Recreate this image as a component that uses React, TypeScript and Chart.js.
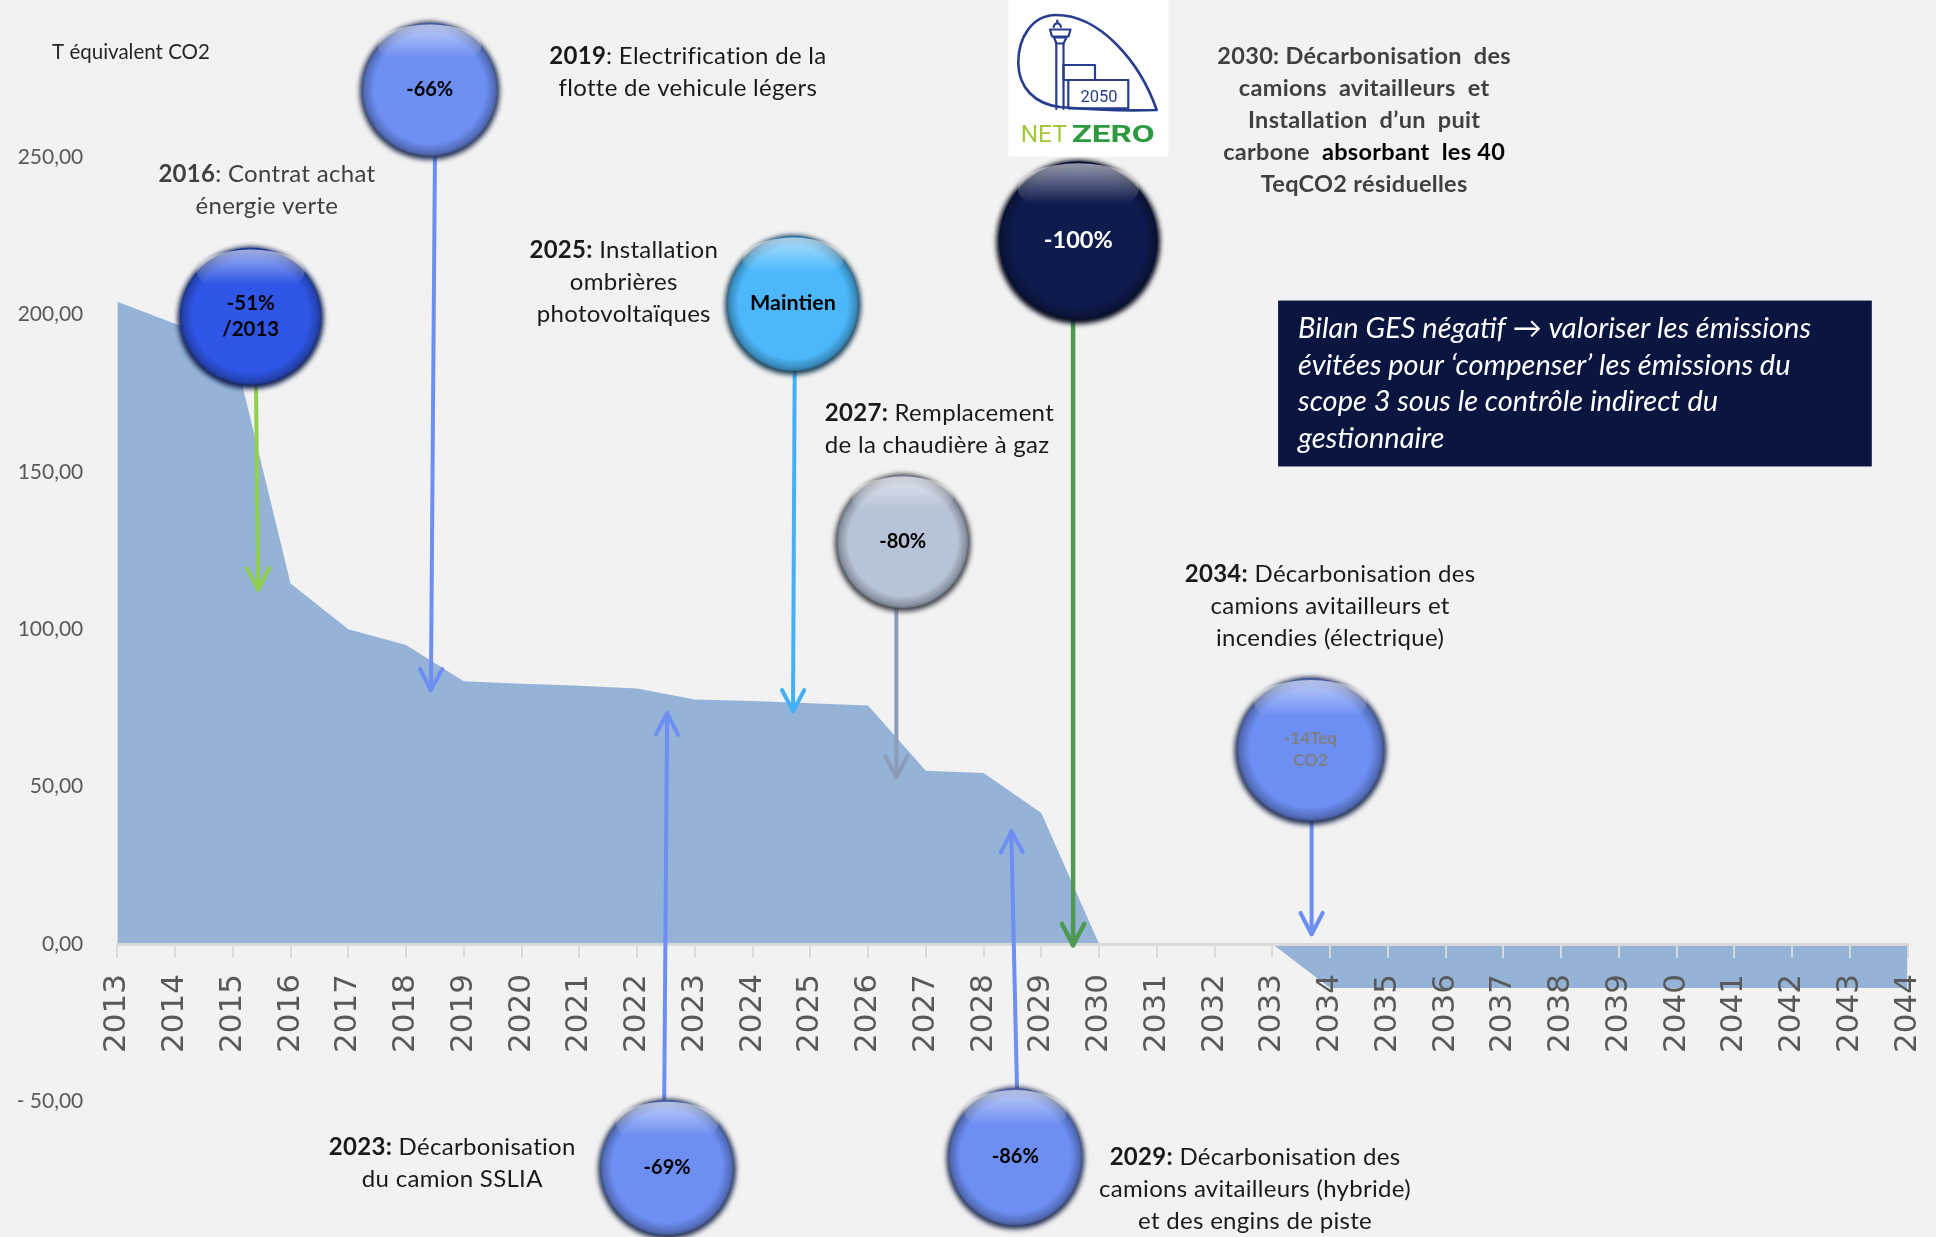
import React, { useEffect, useRef } from 'react';
import { Chart, registerables } from 'chart.js';

Chart.register(...registerables);

// ---------- DATA ----------
const years = [
  '2013', '2014', '2015', '2016', '2017', '2018', '2019', '2020', '2021', '2022', '2023',
  '2024', '2025', '2026', '2027', '2028', '2029', '2030', '2031', '2032', '2033', '2034',
  '2035', '2036', '2037', '2038', '2039', '2040', '2041', '2042', '2043', '2044',
];
const emissions = [
  204, 197, 190, 114.5, 100, 95, 83.5, 82.7, 82, 81.2, 77.7,
  77.2, 76.5, 75.8, 55, 54.3, 41.6, 0, 0, 0, 0, -14,
  -14, -14, -14, -14, -14, -14, -14, -14, -14, -14,
];
const yMin = -50;
const yMax = 250;
const yStep = 50;
const yTitle = 'T équivalent CO2';

// milestone bubbles (anchor in data units: year, tCO2e)
const bubbleTexts = [['-51%', '/2013'], ['-66%'], ['Maintien'], ['-80%'], ['-100%'], ['-14Teq', 'CO2'], ['-69%'], ['-86%']];
const bubbleYears = [2015.31, 2018.41, 2024.70, 2026.60, 2029.64, 2033.66, 2022.52, 2028.55];
const bubbleValues = [199.4, 271.5, 203.5, 127.9, 223.5, 61.8, -71.0, -67.6];

// arrows (from -> to, data units)
const arrowFromYears = [2015.40, 2018.50, 2024.73, 2026.49, 2029.55, 2033.68, 2022.47, 2028.58];
const arrowFromValues = [180, 250, 185, 110, 200, 40, -50, -47];
const arrowToYears = [2015.44, 2018.43, 2024.70, 2026.49, 2029.55, 2033.68, 2022.52, 2028.48];
const arrowToValues = [112.6, 80.6, 73.9, 52.9, -0.4, 3.1, 73.3, 35.8];

// milestone notes
const noteLines = [
  ['**2016**: Contrat achat', 'énergie verte'],
  ['**2019**: Electrification de la', 'flotte de vehicule légers'],
  ['**2025:** Installation', 'ombrières', 'photovoltaïques'],
  ['**2027:** Remplacement', 'de la chaudière à gaz'],
  ['2030: Décarbonisation  des', 'camions  avitailleurs  et', 'Installation  d’un  puit', 'carbone  [[absorbant  les 40]]', 'TeqCO2 résiduelles'],
  ['**2034:** Décarbonisation des', 'camions avitailleurs et', 'incendies (électrique)'],
  ['**2023:** Décarbonisation', 'du camion SSLIA'],
  ['**2029:** Décarbonisation des', 'camions avitailleurs (hybride)', 'et des engins de piste'],
];
const noteYears = [2015.59, 2022.88, 2021.77, 2025.25, 2034.59, 2034.0, 2018.80, 2032.70];
const noteValues = [244.5, 282.0, 220.3, 168.6, 282.0, 117.4, -64.6, -67.8];

const boxLines = [
  'Bilan GES négatif → valoriser les émissions',
  'évitées pour ‘compenser’ les émissions du',
  'scope 3 sous le contrôle indirect du',
  'gestionnaire',
];

// ---------- STYLES ----------
const BG = '#f2f2f2';
const AREA = '#95b3d7';
const bubbleColors = ['#2f56e6', '#6d8ef2', '#4cb8fb', '#b7c3d7', '#0e1b4d', '#6d8ef2', '#6d8ef2', '#6d8ef2'];
const bubbleTextColors = ['#000', '#000', '#000', '#000', '#fff', '#7f7f7f', '#000', '#000'];
const bubbleRx = [73, 70, 68, 68, 82, 76, 69, 69];
const bubbleRy = [71, 69, 70, 69, 82, 74, 70, 71];
const bubbleFont = [20.5, 20, 21.5, 20, 23.5, 17, 20, 20];
const arrowColors = ['#92d050', '#6d8ef2', '#45b0f8', '#8c9cb6', '#4f9a52', '#6d8ef2', '#6d8ef2', '#6d8ef2'];
const noteAlign = ['center', 'center', 'center', 'left', 'center', 'center', 'center', 'center'];
const noteColor = ['#404040', '#1a1a1a', '#1a1a1a', '#1a1a1a', '#404040', '#1a1a1a', '#1a1a1a', '#1a1a1a'];
const noteBold = [false, false, false, false, true, false, false, false];
const noteSize = [24, 24, 24, 24, 23.5, 24, 24, 24];
const FONT = 'Lato, "Open Sans", sans-serif';

function shade(hex: string, f: number) {
  const n = parseInt(hex.slice(1), 16);
  let r = (n >> 16) & 255, g = (n >> 8) & 255, b = n & 255;
  const t = f < 0 ? 0 : 255;
  const p = Math.abs(f);
  r = Math.round((t - r) * p + r);
  g = Math.round((t - g) * p + g);
  b = Math.round((t - b) * p + b);
  return `rgb(${r},${g},${b})`;
}

function drawBubble(ctx: CanvasRenderingContext2D, cx: number, cy: number, rx: number, ry: number, color: string) {
  ctx.save();
  ctx.filter = 'blur(2.5px)';
  ctx.beginPath();
  ctx.ellipse(cx, cy + 1.5, rx, ry, 0, 0, Math.PI * 2);
  ctx.fillStyle = shade(color, -0.65);
  ctx.fill();
  ctx.filter = 'none';
  ctx.translate(cx, cy);
  ctx.scale(rx, ry);
  const g = ctx.createRadialGradient(0, -0.05, 0, 0, 0, 1);
  g.addColorStop(0, color);
  g.addColorStop(0.8, color);
  g.addColorStop(0.93, shade(color, -0.25));
  g.addColorStop(1, shade(color, -0.55));
  ctx.beginPath();
  ctx.arc(0, 0, 0.965, 0, Math.PI * 2);
  ctx.fillStyle = g;
  ctx.fill();
  const h = ctx.createLinearGradient(0, -0.93, 0, -0.45);
  h.addColorStop(0, 'rgba(255,255,255,0.55)');
  h.addColorStop(1, 'rgba(255,255,255,0)');
  ctx.beginPath();
  ctx.ellipse(0, -0.63, 0.74, 0.31, 0, 0, Math.PI * 2);
  ctx.fillStyle = h;
  ctx.fill();
  ctx.restore();
}

function drawArrow(ctx: CanvasRenderingContext2D, x1: number, y1: number, x2: number, y2: number, color: string, w: number) {
  ctx.save();
  ctx.strokeStyle = color;
  ctx.lineWidth = w;
  ctx.lineCap = 'round';
  ctx.lineJoin = 'round';
  ctx.beginPath();
  ctx.moveTo(x1, y1);
  ctx.lineTo(x2, y2);
  ctx.stroke();
  const a = Math.atan2(y2 - y1, x2 - x1);
  const L = 24, s = 0.48;
  ctx.beginPath();
  ctx.moveTo(x2 - L * Math.cos(a - s), y2 - L * Math.sin(a - s));
  ctx.lineTo(x2, y2);
  ctx.lineTo(x2 - L * Math.cos(a + s), y2 - L * Math.sin(a + s));
  ctx.stroke();
  ctx.restore();
}

type Seg = { t: string; b: boolean; c: string };
function parseSegs(line: string, baseBold: boolean, baseColor: string): Seg[] {
  const segs: Seg[] = [];
  const re = /(\*\*[^*]+\*\*|\[\[[^\]]+\]\])/g;
  let last = 0;
  let m: RegExpExecArray | null;
  while ((m = re.exec(line))) {
    if (m.index > last) segs.push({ t: line.slice(last, m.index), b: baseBold, c: baseColor });
    const tok = m[0];
    if (tok.startsWith('**')) segs.push({ t: tok.slice(2, -2), b: true, c: baseColor });
    else segs.push({ t: tok.slice(2, -2), b: true, c: '#000' });
    last = m.index + tok.length;
  }
  if (last < line.length) segs.push({ t: line.slice(last), b: baseBold, c: baseColor });
  return segs;
}

function drawRich(ctx: CanvasRenderingContext2D, line: string, x: number, y: number, align: string, size: number, bold: boolean, color: string) {
  const segs = parseSegs(line, bold, color);
  (ctx as any).letterSpacing = '0.3px';
  let total = 0;
  const widths = segs.map((s) => {
    ctx.font = `${s.b ? '700 ' : ''}${size}px ${FONT}`;
    const w = ctx.measureText(s.t).width;
    total += w;
    return w;
  });
  let cx = align === 'center' ? x - total / 2 : x;
  ctx.textAlign = 'left';
  ctx.textBaseline = 'middle';
  segs.forEach((s, i) => {
    ctx.font = `${s.b ? '700 ' : ''}${size}px ${FONT}`;
    ctx.fillStyle = s.c;
    ctx.fillText(s.t, cx, y);
    cx += widths[i];
  });
  (ctx as any).letterSpacing = '0px';
}

function fillFit(ctx: CanvasRenderingContext2D, text: string, x: number, y: number, w: number) {
  const m = ctx.measureText(text).width;
  ctx.save();
  ctx.translate(x, y);
  ctx.scale(w / m, 1);
  ctx.fillText(text, 0, 0);
  ctx.restore();
}

function drawLogo(ctx: CanvasRenderingContext2D, ox: number, oy: number) {
  ctx.save();
  ctx.translate(ox, oy);
  ctx.fillStyle = '#ffffff';
  ctx.fillRect(8.3, 0, 160, 156.7);
  const navy = '#273d8e';
  ctx.strokeStyle = navy;
  ctx.lineWidth = 2.6;
  ctx.lineJoin = 'round';
  ctx.lineCap = 'round';
  ctx.beginPath();
  ctx.moveTo(156.7, 110);
  ctx.bezierCurveTo(140, 62, 100, 15, 56, 15);
  ctx.bezierCurveTo(32, 15, 18, 38, 18.3, 63);
  ctx.bezierCurveTo(18.6, 88, 35, 104, 60, 107);
  ctx.bezierCurveTo(95, 110, 130, 111, 156.7, 110);
  ctx.stroke();
  // tower
  ctx.lineWidth = 2.2;
  ctx.beginPath();
  ctx.moveTo(57.3, 20.5);
  ctx.lineTo(57.3, 23);
  ctx.stroke();
  ctx.beginPath();
  ctx.arc(57.3, 27, 3.6, Math.PI, 0);
  ctx.stroke();
  ctx.beginPath();
  ctx.moveTo(50, 29.5);
  ctx.lineTo(70.5, 29.5);
  ctx.lineTo(68.5, 36.5);
  ctx.lineTo(52, 36.5);
  ctx.closePath();
  ctx.stroke();
  ctx.beginPath();
  ctx.moveTo(54, 37.5);
  ctx.lineTo(66.5, 37.5);
  ctx.lineTo(63.5, 43.5);
  ctx.lineTo(56.5, 43.5);
  ctx.closePath();
  ctx.stroke();
  ctx.beginPath();
  ctx.moveTo(56.3, 43.5);
  ctx.lineTo(56.3, 109);
  ctx.moveTo(63.5, 43.5);
  ctx.lineTo(63.5, 109);
  ctx.stroke();
  // buildings
  ctx.strokeRect(63.5, 65, 31.5, 15);
  ctx.strokeRect(68.3, 80, 60, 28.3);
  ctx.fillStyle = navy;
  ctx.font = `17px Roboto, "DejaVu Sans", sans-serif`;
  ctx.textAlign = 'left';
  ctx.textBaseline = 'alphabetic';
  fillFit(ctx, '2050', 80.5, 101.5, 37);
  ctx.font = `24px Roboto, "DejaVu Sans", sans-serif`;
  ctx.fillStyle = '#a3c83b';
  fillFit(ctx, 'NET', 20.7, 141.7, 46);
  ctx.font = `700 24px Roboto, "DejaVu Sans", sans-serif`;
  ctx.fillStyle = '#2c9a3f';
  fillFit(ctx, 'ZERO', 71.7, 141.7, 83);
  ctx.restore();
}

const fmtTick = (v: number) => {
  const s = Math.abs(v).toFixed(2).replace('.', ',');
  return v < 0 ? '- ' + s : s;
};

const decorPlugin = {
  id: 'decor',
  beforeDraw(chart: any) {
    const ctx = chart.ctx as CanvasRenderingContext2D;
    ctx.save();
    ctx.fillStyle = BG;
    ctx.fillRect(0, 0, chart.width, chart.height);
    ctx.restore();
  },
  afterDraw(chart: any) {
    const ctx = chart.ctx as CanvasRenderingContext2D;
    const xs = chart.scales.x;
    const ys = chart.scales.y;
    const px = (yr: number) => xs.getPixelForValue(yr - 2013);
    const py = (v: number) => ys.getPixelForValue(v);
    ctx.save();
    // arrows
    arrowFromYears.forEach((_, i) => {
      drawArrow(ctx, px(arrowFromYears[i]), py(arrowFromValues[i]), px(arrowToYears[i]), py(arrowToValues[i]), arrowColors[i], i === 4 ? 4.5 : 4);
    });
    // bubbles
    bubbleTexts.forEach((lines, i) => {
      const cx = px(bubbleYears[i]);
      const cy = py(bubbleValues[i]);
      drawBubble(ctx, cx, cy, bubbleRx[i], bubbleRy[i], bubbleColors[i]);
      ctx.fillStyle = bubbleTextColors[i];
      ctx.font = `700 ${bubbleFont[i]}px ${FONT}`;
      ctx.textAlign = 'center';
      ctx.textBaseline = 'middle';
      const lh = bubbleFont[i] * 1.3;
      lines.forEach((t, j) => {
        ctx.fillText(t, cx, cy + (j - (lines.length - 1) / 2) * lh);
      });
    });
    // notes
    noteLines.forEach((lines, i) => {
      const x = px(noteYears[i]);
      const y0 = py(noteValues[i]);
      lines.forEach((ln, j) => {
        drawRich(ctx, ln, x, y0 + j * 32, noteAlign[i], noteSize[i], noteBold[i], noteColor[i]);
      });
    });
    // axis title
    ctx.font = `20.5px ${FONT}`;
    ctx.fillStyle = '#262626';
    ctx.textAlign = 'left';
    ctx.textBaseline = 'middle';
    ctx.fillText(yTitle, px(2011.87), py(283.3));
    // info box
    const bx1 = px(2033.10), by1 = py(204.4), bx2 = px(2043.38), by2 = py(151.7);
    ctx.fillStyle = '#0b1640';
    ctx.fillRect(bx1, by1, bx2 - bx1, by2 - by1);
    ctx.fillStyle = '#ffffff';
    ctx.font = `italic 29px ${FONT}`;
    boxLines.forEach((t, j) => {
      ctx.fillText(t, bx1 + 20, by1 + 28 + j * 36.7);
    });
    // logo
    drawLogo(ctx, 1000, 0);
    ctx.restore();
  },
};

export default function App() {
  const ref = useRef<HTMLCanvasElement | null>(null);
  useEffect(() => {
    document.body.style.margin = '0';
    document.body.style.background = BG;
    const canvas = ref.current;
    if (!canvas) return;
    const chart = new Chart(canvas, {
      type: 'line',
      data: {
        labels: years,
        datasets: [
          {
            data: emissions,
            fill: 'origin',
            backgroundColor: AREA,
            borderColor: 'rgba(0,0,0,0)',
            borderWidth: 0,
            pointRadius: 0,
            tension: 0,
          },
        ],
      },
      options: {
        responsive: false,
        animation: false,
        devicePixelRatio: 1,
        layout: { padding: { left: 0, right: 28.4, top: 157, bottom: 135.6 } },
        plugins: { legend: { display: false }, tooltip: { enabled: false } },
        scales: {
          x: {
            type: 'category',
            position: { y: 0 } as any,
            offset: false,
            afterFit: (s: any) => {
              s.paddingLeft = 0;
              s.paddingRight = 0;
            },
            grid: { display: true, drawOnChartArea: false, drawTicks: true, tickLength: 12, color: '#d9d9d9', lineWidth: 2, z: 1 },
            border: { display: true, color: '#d9d9d9', width: 3, z: 1 },
            ticks: {
              z: 1,
              autoSkip: false,
              minRotation: 90,
              maxRotation: 90,
              padding: 18,
              color: '#595959',
              font: { family: '"DejaVu Sans", sans-serif', size: 31 },
            },
          },
          y: {
            min: yMin,
            max: yMax,
            afterFit: (s: any) => {
              s.width = 117.3;
            },
            grid: { display: false, drawTicks: false },
            border: { display: false },
            ticks: {
              stepSize: yStep,
              padding: 34,
              color: '#595959',
              font: { family: FONT, size: 21 },
              callback: (v: any) => fmtTick(Number(v)),
            },
          },
        },
      },
      plugins: [decorPlugin],
    } as any);
    return () => chart.destroy();
  }, []);
  return (
    <div style={{ position: 'absolute', left: 0, top: 0, width: 1936, height: 1237, background: BG }}>
      <canvas ref={ref} width={1936} height={1237} style={{ display: 'block', width: 1936, height: 1237 }} />
    </div>
  );
}
